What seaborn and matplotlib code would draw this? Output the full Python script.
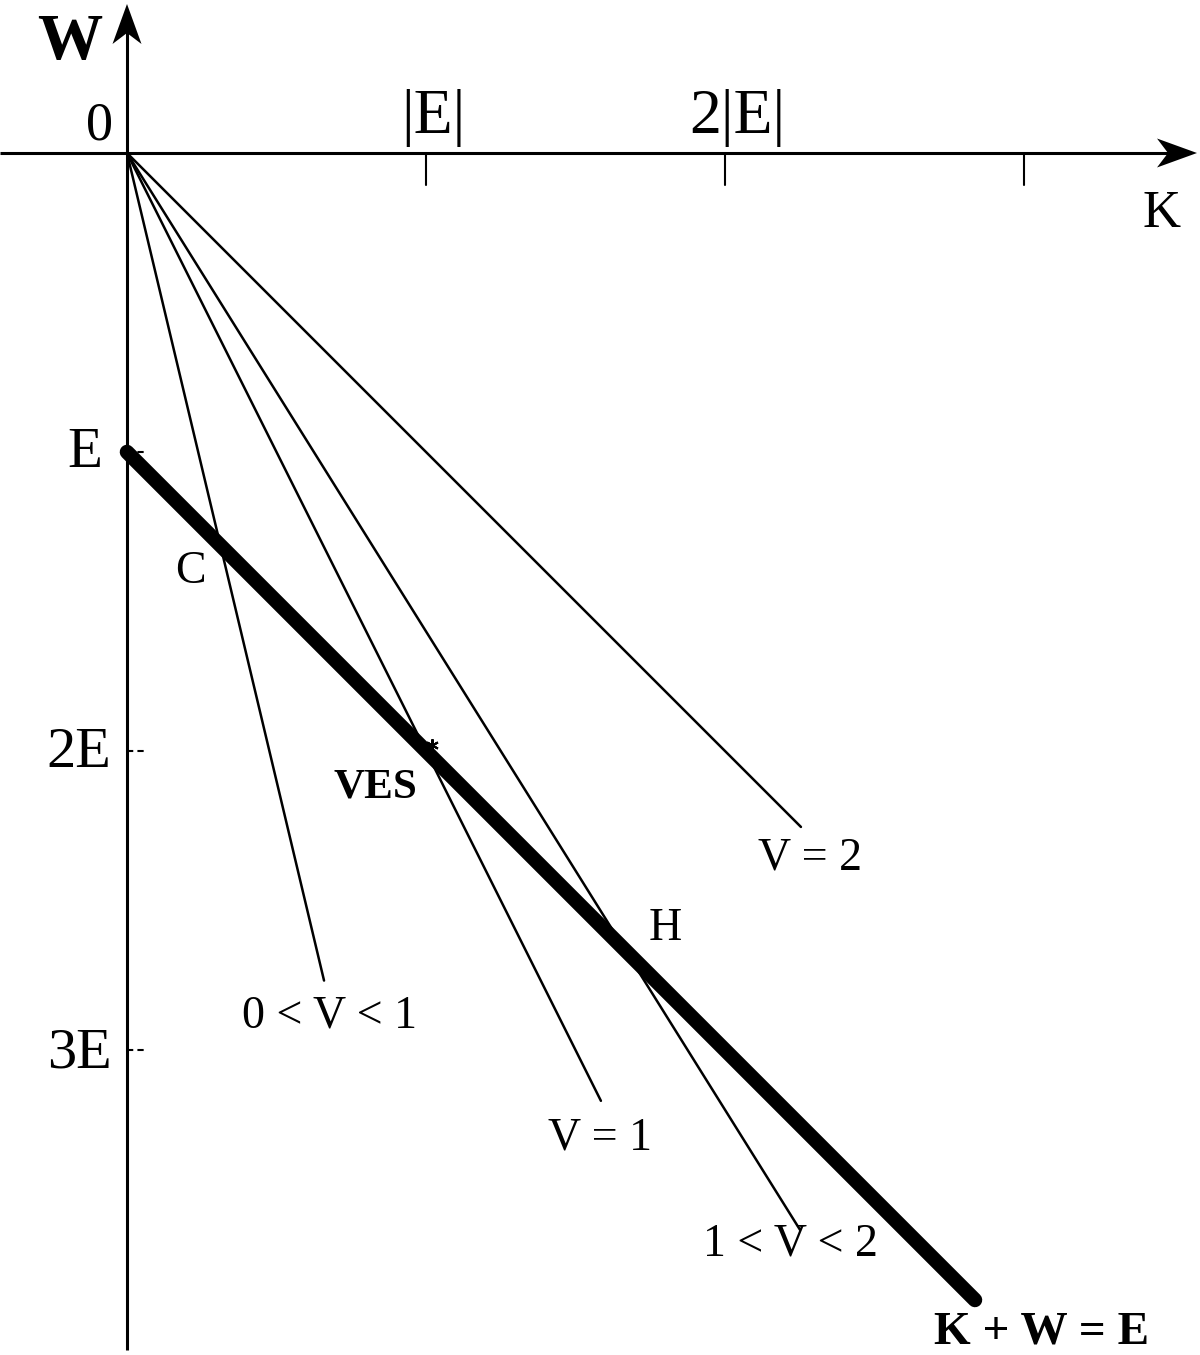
import numpy as np
import pandas as pd
import matplotlib
matplotlib.use("Agg")
import matplotlib.pyplot as plt
from matplotlib.patches import Polygon
import seaborn as sns

# ---- data (units of |E|, E = -1) ----
E = -1.0
ray_labels = ["0 < V < 1", "V = 1", "1 < V < 2", "V = 2"]
ray_slopes = [4.2, 2.0, 1.6, 1.0]          # W = -slope * K
ray_end_K = [0.659, 1.585, 2.251, 2.254]
energy_line_end_K = 2.836                  # K + W = E
x_tick_vals = [1, 2, 3]
x_tick_labels = ["|E|", "2|E|", ""]
y_tick_vals = [-1, -2, -3]
y_tick_labels = ["E", "2E", "3E"]
point_names = ["C", "VES", "H"]
point_slopes = [4.2, 2.0, 1.6]

sns.set_theme(style="white")
plt.rcParams["font.family"] = ["Liberation Serif", "DejaVu Serif"]

fig = plt.figure(figsize=(12, 13.55), dpi=100)
ax = fig.add_axes([0, 0, 1, 1])
U = 299.0
ax.set_xlim(-127 / U, (1200 - 127) / U)
ax.set_ylim(-(1355 - 153) / U, 153 / U)
ax.set_aspect("equal")
ax.axis("off")

# axes lines
ax.plot([-127 / U, 3.55], [0, 0], color="black", lw=2.2, solid_capstyle="butt")
ax.plot([0, 0], [-(1350 - 153) / U, 0.47], color="black", lw=2.2, solid_capstyle="butt")

def arrow_head(tip, direction):
    L, hw, notch = 40 / U, 14.5 / U, 11 / U
    d = np.array(direction, float)
    n = np.array([-d[1], d[0]])
    t = np.array(tip, float)
    pts = [t, t - L * d + hw * n, t - (L - notch) * d, t - L * d - hw * n]
    ax.add_patch(Polygon(pts, closed=True, color="black", lw=0))

arrow_head(((1197 - 127) / U, 0), (1, 0))
arrow_head((0, (153 - 4) / U), (0, 1))

# ticks
for xv in x_tick_vals:
    ax.plot([xv, xv], [0, -32 / U], color="black", lw=1.5)
for yv in y_tick_vals:
    ax.plot([0, 19 / U], [yv, yv], color="black", lw=1.5, linestyle=(0, (3, 2)))

# rays from origin
for lab, s, kend in zip(ray_labels, ray_slopes, ray_end_K):
    df = pd.DataFrame({"K": [0.0, kend], "W": [0.0, -s * kend]})
    sns.lineplot(data=df, x="K", y="W", ax=ax, color="black", lw=1.8,
                 sort=False, estimator=None)

# energy line K + W = E
dfE = pd.DataFrame({"K": [0.0, energy_line_end_K], "W": [E, E - energy_line_end_K]})
sns.lineplot(data=dfE, x="K", y="W", ax=ax, color="black", lw=10.5,
             sort=False, estimator=None, solid_capstyle="round")

# intersection points
for name, s in zip(point_names, point_slopes):
    k = E / (1 - s)
    w = -s * k
    if name == "VES":
        ax.plot(k + 0.02, w + 0.02, marker=(6, 2, 0), ms=9, color="black", mew=1.5)
    else:
        ax.plot(k, w, marker="o", ms=4, color="black")

def T(px, py, s, size, weight="normal"):
    ax.text((px - 127) / U, -(py - 153) / U, s, fontsize=size, weight=weight,
            ha="center", va="baseline", color="black")

T(70, 59, "W", 47, "bold")
T(100, 140, "0", 39)
T(433, 133, x_tick_labels[0], 46)
T(737, 133, x_tick_labels[1], 46)
T(1162, 227, "K", 38)
T(85, 467, y_tick_labels[0], 41)
T(79, 767, y_tick_labels[1], 42)
T(79, 1067, y_tick_labels[2], 42)
T(190, 583, "C", 33)
T(375, 797, "VES", 31, "bold")
T(665, 940, "H", 33)
T(810, 870, ray_labels[3], 33)
T(330, 1028, ray_labels[0], 33)
T(600, 1150, ray_labels[1], 33)
T(790, 1256, ray_labels[2], 33)
T(1042, 1343, "K + W = E", 34, "bold")

fig.savefig("out.png", dpi=100)
